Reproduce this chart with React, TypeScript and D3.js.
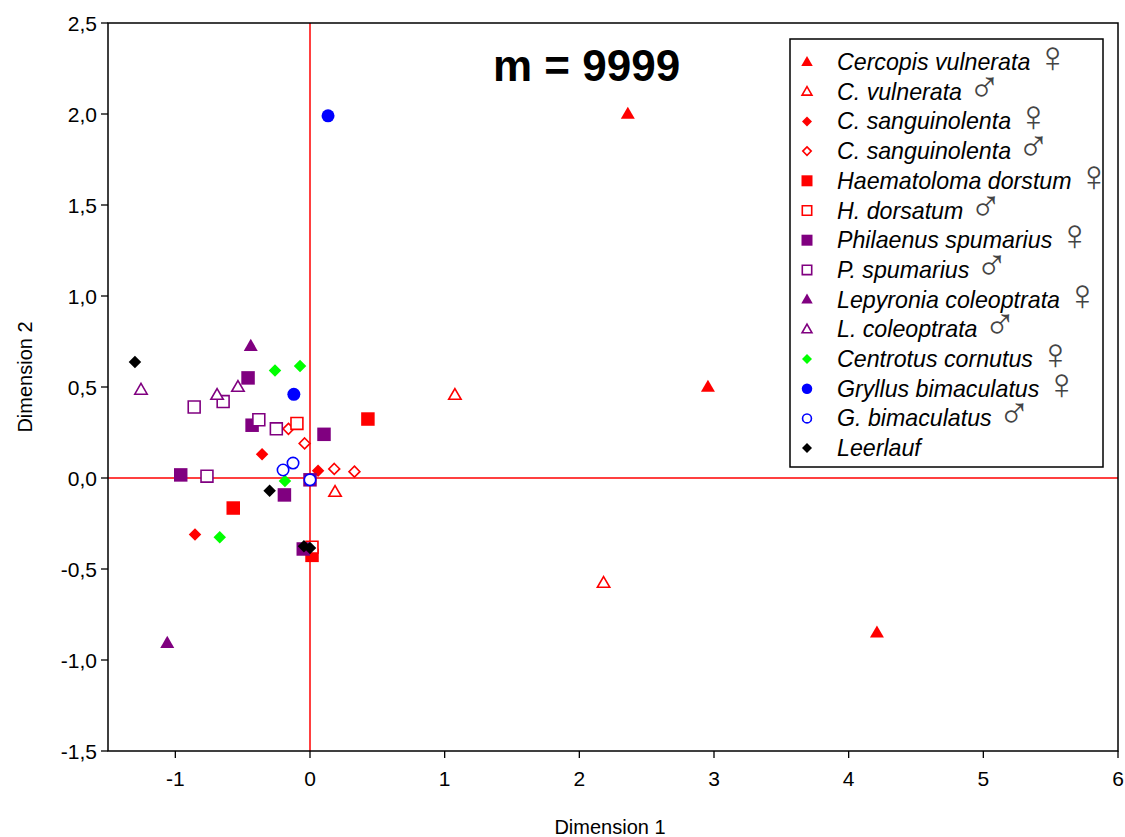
import React from "react";
import * as d3 from "d3";

// Ordination scores (Dimension 1 / Dimension 2) per species and sex
const cercopisF_x = [2.36, 2.955, 4.21];
const cercopisF_y = [2.0, 0.5, -0.85];
const cercopisM_x = [1.076, 2.18, 0.186];
const cercopisM_y = [0.456, -0.577, -0.077];
const sangF_x = [-0.356, -0.854, 0.06];
const sangF_y = [0.13, -0.31, 0.04];
const sangM_x = [-0.16, -0.04, 0.18, 0.33];
const sangM_y = [0.27, 0.19, 0.05, 0.035];
const haemF_x = [0.43, -0.57, 0.015];
const haemF_y = [0.324, -0.165, -0.425];
const haemM_x = [-0.097, 0.015];
const haemM_y = [0.3, -0.38];
const philF_x = [-0.46, -0.43, 0.104, -0.96, -0.19, -0.05, 0.0];
const philF_y = [0.55, 0.29, 0.24, 0.017, -0.093, -0.39, -0.01];
const philM_x = [-0.86, -0.645, -0.38, -0.25, -0.765];
const philM_y = [0.39, 0.42, 0.32, 0.27, 0.01];
const lepyF_x = [-0.44, -1.06];
const lepyF_y = [0.725, -0.907];
const lepyM_x = [-1.255, -0.69, -0.535];
const lepyM_y = [0.484, 0.456, 0.5];
const centF_x = [-0.26, -0.074, -0.186, -0.67];
const centF_y = [0.59, 0.615, -0.016, -0.325];
const gryF_x = [0.134, -0.12];
const gryF_y = [1.99, 0.46];
const gryM_x = [-0.2, -0.126, 0.0];
const gryM_y = [0.044, 0.082, -0.01];
const leer_x = [-1.3, -0.3, -0.045, 0.0];
const leer_y = [0.637, -0.07, -0.375, -0.385];

const xTicks = [-1, 0, 1, 2, 3, 4, 5, 6];
const yTicks = [-1.5, -1.0, -0.5, 0.0, 0.5, 1.0, 1.5, 2.0, 2.5];

type Shape = "triangle" | "diamond" | "square" | "circle";

const series: {
  name: string;
  sex: string;
  shape: Shape;
  color: string;
  filled: boolean;
  xs: number[];
  ys: number[];
}[] = [
  { name: "Cercopis vulnerata", sex: "♀", shape: "triangle", color: "#ff0000", filled: true, xs: cercopisF_x, ys: cercopisF_y },
  { name: "C. vulnerata", sex: "♂", shape: "triangle", color: "#ff0000", filled: false, xs: cercopisM_x, ys: cercopisM_y },
  { name: "C. sanguinolenta", sex: "♀", shape: "diamond", color: "#ff0000", filled: true, xs: sangF_x, ys: sangF_y },
  { name: "C. sanguinolenta", sex: "♂", shape: "diamond", color: "#ff0000", filled: false, xs: sangM_x, ys: sangM_y },
  { name: "Haematoloma dorstum", sex: "♀", shape: "square", color: "#ff0000", filled: true, xs: haemF_x, ys: haemF_y },
  { name: "H. dorsatum", sex: "♂", shape: "square", color: "#ff0000", filled: false, xs: haemM_x, ys: haemM_y },
  { name: "Philaenus spumarius", sex: "♀", shape: "square", color: "#800080", filled: true, xs: philF_x, ys: philF_y },
  { name: "P. spumarius", sex: "♂", shape: "square", color: "#800080", filled: false, xs: philM_x, ys: philM_y },
  { name: "Lepyronia coleoptrata", sex: "♀", shape: "triangle", color: "#800080", filled: true, xs: lepyF_x, ys: lepyF_y },
  { name: "L. coleoptrata", sex: "♂", shape: "triangle", color: "#800080", filled: false, xs: lepyM_x, ys: lepyM_y },
  { name: "Centrotus cornutus", sex: "♀", shape: "diamond", color: "#00ff00", filled: true, xs: centF_x, ys: centF_y },
  { name: "Gryllus bimaculatus", sex: "♀", shape: "circle", color: "#0000ff", filled: true, xs: gryF_x, ys: gryF_y },
  { name: "G. bimaculatus", sex: "♂", shape: "circle", color: "#0000ff", filled: false, xs: gryM_x, ys: gryM_y },
  { name: "Leerlauf", sex: "", shape: "diamond", color: "#000000", filled: true, xs: leer_x, ys: leer_y },
];

const W = 1125;
const H = 837;
const left = 108;
const right = 1118;
const top = 23;
const bottom = 751;

const x = d3.scaleLinear().domain([-1.5, 6]).range([left, right]);
const y = d3.scaleLinear().domain([-1.5, 2.5]).range([bottom, top]);

// Marker path centred on (0,0); s is the overall width in px
function markerPath(shape: Shape, s: number): string {
  const h = s / 2;
  if (shape === "square") return `M${-h},${-h}H${h}V${h}H${-h}Z`;
  if (shape === "diamond") return `M0,${-h}L${h},0L0,${h}L${-h},0Z`;
  if (shape === "triangle") {
    const th = s * 0.866;
    return `M0,${-th * 0.6}L${h},${th * 0.4}L${-h},${th * 0.4}Z`;
  }
  const p = d3.path();
  p.arc(0, 0, h, 0, Math.PI * 2);
  p.closePath();
  return p.toString();
}

const sizeOf: Record<Shape, number> = { square: 13.5, diamond: 12.5, triangle: 14, circle: 13 };
const legendSize: Record<Shape, number> = { square: 11, diamond: 10, triangle: 11.5, circle: 10.5 };

function Marker({ shape, color, filled, cx, cy, size }: { shape: Shape; color: string; filled: boolean; cx: number; cy: number; size: number }) {
  const sw = 1.6;
  const s = filled ? size : size - sw;
  return (
    <path
      d={markerPath(shape, s)}
      transform={`translate(${cx},${cy})`}
      fill={filled ? color : "#ffffff"}
      stroke={filled ? "none" : color}
      strokeWidth={filled ? 0 : sw}
    />
  );
}

// Decimal comma, plain hyphen for negatives
const fmt = (v: number) => d3.format(".1f")(v).replace(".", ",").replace("\u2212", "-");

export default function App() {
  const font = "Liberation Sans, Arial, sans-serif";
  const legX = 790;
  const legY = 39;
  const legW = 313;
  const legH = 428;
  const rowH = 29.7;
  const row0 = 62;

  return (
    <svg width={W} height={H} style={{ position: "absolute", left: 0, top: 0, background: "#fff" }} fontFamily={font}>
      <rect x={0} y={0} width={W} height={H} fill="#fff" />

      {/* zero reference lines */}
      <line x1={x(0)} x2={x(0)} y1={top} y2={bottom} stroke="#ff0000" strokeWidth={1.5} />
      <line x1={left} x2={right} y1={y(0)} y2={y(0)} stroke="#ff0000" strokeWidth={1.5} />

      {/* points */}
      {series.map((s, si) =>
        s.xs.map((xv, i) => (
          <Marker key={`${si}-${i}`} shape={s.shape} color={s.color} filled={s.filled} cx={x(xv)} cy={y(s.ys[i])} size={sizeOf[s.shape]} />
        ))
      )}

      {/* frame */}
      <rect x={left} y={top} width={right - left} height={bottom - top} fill="none" stroke="#000" strokeWidth={1.5} />

      {/* x axis */}
      {xTicks.map((t) => (
        <g key={`xt${t}`}>
          <line x1={x(t)} x2={x(t)} y1={bottom} y2={bottom + 7} stroke="#000" strokeWidth={1.3} />
          <text x={x(t)} y={bottom + 35} textAnchor="middle" fontSize={21} fill="#000">
            {String(t)}
          </text>
        </g>
      ))}
      {/* y axis */}
      {yTicks.map((t) => (
        <g key={`yt${t}`}>
          <line x1={left - 7} x2={left} y1={y(t)} y2={y(t)} stroke="#000" strokeWidth={1.3} />
          <text x={left - 11} y={y(t) + 7.5} textAnchor="end" fontSize={21} fill="#000">
            {fmt(t)}
          </text>
        </g>
      ))}

      <text x={610} y={834} textAnchor="middle" fontSize={20} fill="#000">
        Dimension 1
      </text>
      <text transform={`translate(32,377) rotate(-90)`} textAnchor="middle" fontSize={20} fill="#000">
        Dimension 2
      </text>

      <text x={493} y={81} fontSize={44} fontWeight="bold" fill="#000">
        m = 9999
      </text>

      {/* legend */}
      <rect x={legX} y={legY} width={legW} height={legH} fill="#fff" stroke="#000" strokeWidth={1.5} />
      {series.map((s, i) => {
        const cy = row0 + i * rowH;
        return (
          <g key={`leg${i}`}>
            <Marker shape={s.shape} color={s.color} filled={s.filled} cx={807} cy={cy} size={legendSize[s.shape]} />
            <text x={837} y={cy + 8} fontSize={23.2} fontStyle="italic" fill="#000">
              {s.name}
              {s.sex && (
                <tspan dx={6} dy={2} fontStyle="normal" fontSize={44} fill="#444">
                  {s.sex}
                </tspan>
              )}
            </text>
          </g>
        );
      })}
    </svg>
  );
}
